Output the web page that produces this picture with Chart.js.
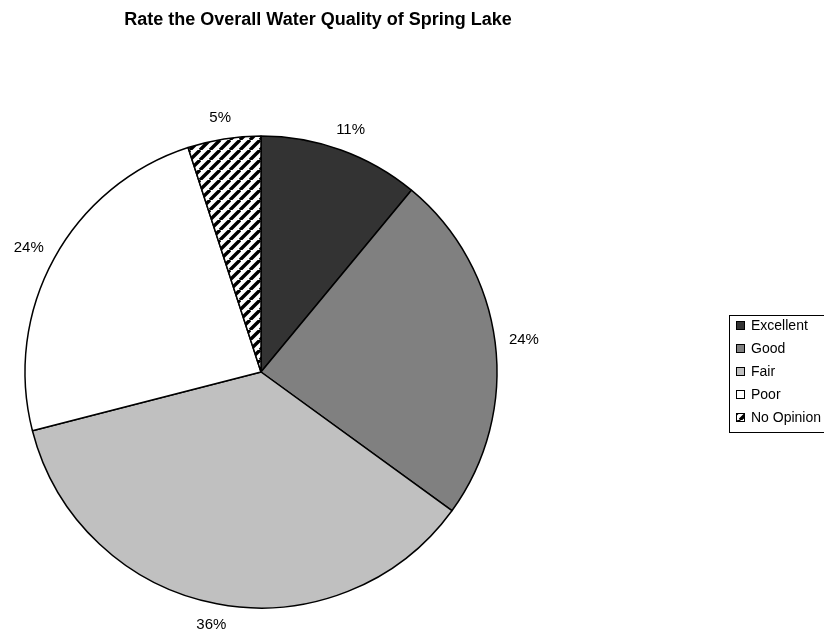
<!DOCTYPE html>
<html>
<head>
<meta charset="utf-8">
<script src="https://cdn.jsdelivr.net/npm/chart.js@4/dist/chart.umd.min.js"></script>
<style>
html,body{margin:0;padding:0;background:#fff;}
#wrap{width:824px;height:633px;position:relative;}
</style>
</head>
<body>
<div id="wrap"><canvas id="c" width="824" height="633"></canvas></div>
<script>
const chartTitle = "Rate the Overall Water Quality of Spring Lake";
const categories = ["Excellent", "Good", "Fair", "Poor", "No Opinion"];
const values = [11, 24, 36, 24, 5];
const valueLabels = ["11%", "24%", "36%", "24%", "5%"];
const sliceColors = ["#333333", "#808080", "#C0C0C0", "#FFFFFF", "hatch"];

const FONT = "'Liberation Sans', Arial, Helvetica, sans-serif";

function makeHatch(){
  const s = 10;
  const pc = document.createElement('canvas');
  pc.width = s; pc.height = s;
  const g = pc.getContext('2d');
  g.fillStyle = '#fff';
  g.fillRect(0,0,s,s);
  g.strokeStyle = '#000';
  g.lineWidth = 3.4;
  g.beginPath();
  for (let k = -1; k <= 1; k++) {
    g.moveTo(k*s, s);
    g.lineTo(k*s + s, 0);
  }
  g.stroke();
  return document.getElementById('c').getContext('2d').createPattern(pc, 'repeat');
}
const hatch = makeHatch();
const fills = sliceColors.map(c => c === 'hatch' ? hatch : c);

const textPlugin = {
  id: 'texts',
  afterDraw(chart){
    const ctx = chart.ctx;
    ctx.save();
    // title
    ctx.fillStyle = '#000';
    ctx.font = 'bold 18px ' + FONT;
    ctx.textAlign = 'center';
    ctx.textBaseline = 'alphabetic';
    ctx.fillText(chartTitle, 318, 25);

    // slice labels
    ctx.font = '15px ' + FONT;
    ctx.textBaseline = 'middle';
    const meta = chart.getDatasetMeta(0);
    meta.data.forEach((arc, i) => {
      const p = arc.getProps(['x','y','startAngle','endAngle','outerRadius'], true);
      const mid = (p.startAngle + p.endAngle) / 2;
      const cx = Math.cos(mid), cy = Math.sin(mid);
      const w = ctx.measureText(valueLabels[i]).width;
      const h = 14;
      const r = p.outerRadius + 14;
      const x = p.x + r*cx + (w/2)*cx;
      const y = p.y + r*cy + (h/2)*cy;
      ctx.textAlign = 'center';
      ctx.fillText(valueLabels[i], x, y);
    });

    // legend
    const lx = 729, ly = 315, lw = 120, rowH = 23;
    ctx.strokeStyle = '#000';
    ctx.lineWidth = 1;
    ctx.fillStyle = '#fff';
    ctx.fillRect(lx+0.5, ly+0.5, lw, rowH*categories.length + 2);
    ctx.strokeRect(lx+0.5, ly+0.5, lw, rowH*categories.length + 2);
    ctx.font = '14px ' + FONT;
    ctx.textAlign = 'left';
    categories.forEach((name, i) => {
      const yc = ly + 11 + i*rowH;
      ctx.fillStyle = fills[i];
      ctx.fillRect(736.5, yc - 4.5, 8, 8);
      ctx.strokeStyle = '#000';
      ctx.strokeRect(736.5, yc - 4.5, 8, 8);
      ctx.fillStyle = '#000';
      ctx.fillText(name, 751, yc);
    });
    ctx.restore();
  }
};

new Chart(document.getElementById('c'), {
  type: 'pie',
  data: {
    labels: categories,
    datasets: [{
      data: values,
      backgroundColor: fills,
      borderColor: '#000',
      borderWidth: 1.5,
      borderAlign: 'center'
    }]
  },
  options: {
    responsive: false,
    animation: false,
    radius: 236,
    layout: { padding: { left: 25, top: 136, right: 327, bottom: 25 } },
    plugins: {
      legend: { display: false },
      title: { display: false },
      tooltip: { enabled: false }
    }
  },
  plugins: [textPlugin]
});
</script>
</body>
</html>
